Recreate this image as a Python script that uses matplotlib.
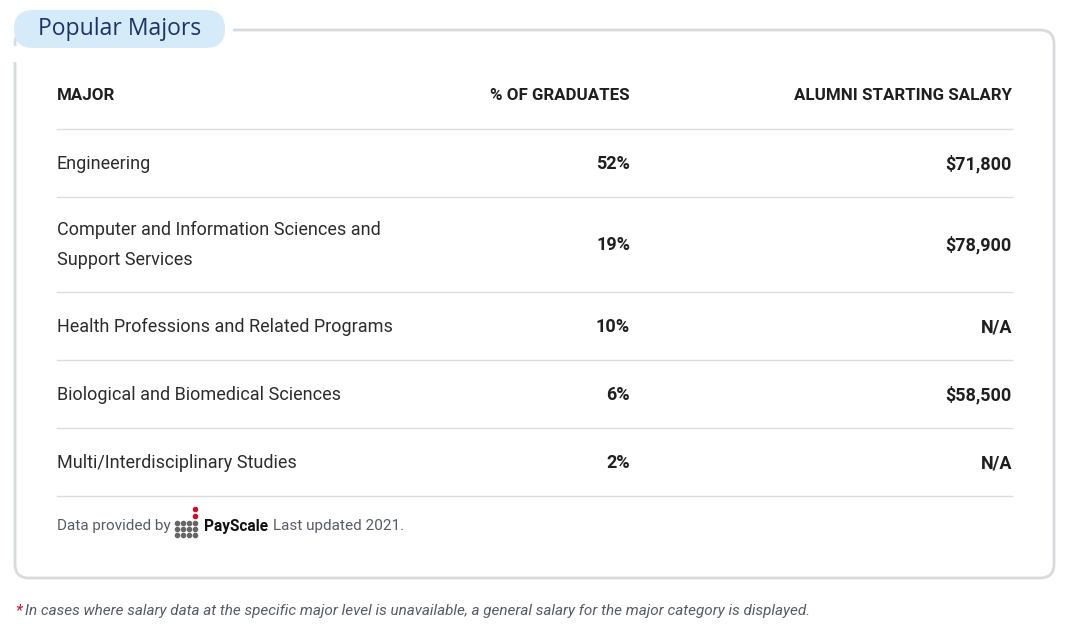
import matplotlib.pyplot as plt
from matplotlib.patches import FancyBboxPatch

plt.rcParams["font.family"] = "Roboto"

# ---------- data ----------
headers = ["MAJOR", "% OF GRADUATES", "ALUMNI STARTING SALARY"]
majors = ["Engineering",
          "Computer and Information Sciences and\nSupport Services",
          "Health Professions and Related Programs",
          "Biological and Biomedical Sciences",
          "Multi/Interdisciplinary Studies"]
pct_graduates = [52, 19, 10, 6, 2]
salaries = ["$71,800", "$78,900", "N/A", "$58,500", "N/A"]

# layout (pixel coords)
row_centers = [164, 245, 327, 395, 463]
row_lines = [129, 197, 292, 360, 428, 496]

fig = plt.figure(figsize=(10.8, 6.38), dpi=100)
ax = fig.add_axes([0, 0, 1, 1])
ax.set_xlim(0, 1080)
ax.set_ylim(638, 0)
ax.axis("off")

border = "#d8dbde"
# outer card
card = FancyBboxPatch((15, 30), 1039, 548, boxstyle="round,pad=0,rounding_size=14",
                      fc="white", ec=border, lw=2)
ax.add_patch(card)
# gap in the top border behind the pill
ax.fill_between([10, 232], 26, 34, color="white", zorder=2)
pill = FancyBboxPatch((14, 10), 211, 38, boxstyle="round,pad=0,rounding_size=19",
                      fc="#d6ebfa", ec="none", zorder=3)
ax.add_patch(pill)
ax.text(120, 29, "Popular Majors", fontsize=16.5, color="#1b3468",
        family="Open Sans", ha="center", va="center", zorder=4)
ax.plot([15, 15], [48, 60], color="white", lw=3, zorder=3)

dark = "#1f1f1f"
hfs = 12.2
ax.text(57, 95, headers[0], fontsize=hfs, weight="bold", color=dark, va="center")
ax.text(630, 95, headers[1], fontsize=hfs, weight="bold", color=dark, va="center", ha="right")
ax.text(1012, 95, headers[2], fontsize=hfs, weight="bold", color=dark, va="center", ha="right")

for y in row_lines:
    ax.plot([57, 1012], [y, y], color="#dcdcdc", lw=1)

for y, m, p, s in zip(row_centers, majors, pct_graduates, salaries):
    ax.text(57, y, m, fontsize=13, color="#2b2b2b", va="center", linespacing=1.8)
    ax.text(630, y, f"{p}%", fontsize=13, weight="bold", color=dark, va="center", ha="right")
    ax.text(1012, y, s, fontsize=13, weight="bold", color=dark, va="center", ha="right")

# footer with PayScale logo
ax.text(57, 526, "Data provided by", fontsize=11, color="#555b63", va="center")
dot_x, dot_y = [], []
for cx in [177, 183, 189, 195]:
    for cy in [523, 529, 535]:
        dot_x.append(cx)
        dot_y.append(cy)
ax.scatter(dot_x, dot_y, s=9, color="#666666", zorder=5)
ax.scatter([195, 195], [516, 509], s=9, color="#c8102e", zorder=5)
ax.text(204, 526, "PayScale", fontsize=11.2, weight="bold", color="#111111", va="center")
ax.text(273, 526, "Last updated 2021.", fontsize=11, color="#555b63", va="center")

ax.text(15, 611, "*", fontsize=11.5, color="#c8102e", style="italic", va="center")
ax.text(25, 611, "In cases where salary data at the specific major level is unavailable, "
        "a general salary for the major category is displayed.",
        fontsize=11, color="#555b63", style="italic", va="center")

fig.savefig("out.png", dpi=100)
